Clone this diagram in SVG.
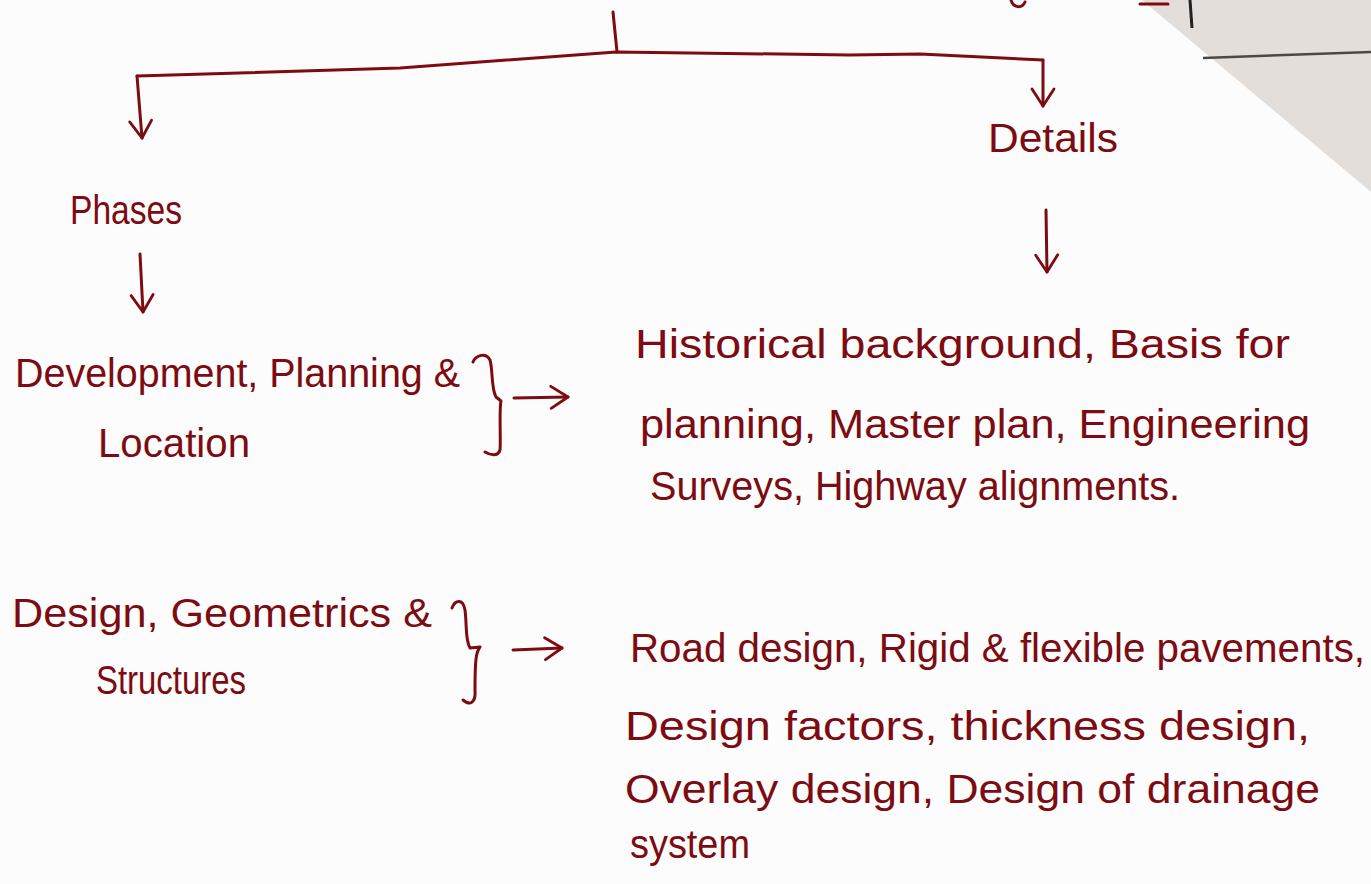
<svg xmlns="http://www.w3.org/2000/svg" width="1371" height="884" viewBox="0 0 1371 884">
<defs>
<style>
.t{font-family:"Liberation Sans","DejaVu Sans",sans-serif;fill:#7c0b12;font-size:40px}
.s{fill:none;stroke:#7c0b12;stroke-width:3;stroke-linecap:round;stroke-linejoin:round}
</style>
<marker id="ah" viewBox="0 0 26 26" refX="24" refY="13" markerWidth="26" markerHeight="26" markerUnits="userSpaceOnUse" orient="auto">
<path d="M7,2 L24,13 L7,24" fill="none" stroke="#7c0b12" stroke-width="2.8" stroke-linecap="round" stroke-linejoin="round"/>
</marker>
</defs>
<rect width="1371" height="884" fill="#fdfcfc"/>
<!-- overlapping page at top right -->
<polygon points="1142,0 1371,0 1371,192" fill="#e4dedb"/>
<path d="M1203,58 L1371,52" stroke="#4a4848" stroke-width="2.5" fill="none"/>
<path d="M1190,0 L1192,28" stroke="#222" stroke-width="3" fill="none"/>
<!-- cut-off fragments at top -->
<path d="M1011,0 C1013,8 1022,9 1025,2" class="s"/>
<path d="M1140,4 L1168,4" class="s" stroke="#333"/>
<g id="connectors">
<path d="M613,12 L617,52" class="s"/>
<path d="M137,76 L400,68 L616,52 L850,55 L920,54 L1043,60" class="s"/>
<path d="M137,76 L142,138" class="s" marker-end="url(#ah)"/>
<path d="M1043,60 L1043,106" class="s" marker-end="url(#ah)"/>
<path d="M140,254 L143,312" class="s" marker-end="url(#ah)"/>
<path d="M1046,210 L1047,272" class="s" marker-end="url(#ah)"/>
<path d="M514,398 L568,397" class="s" marker-end="url(#ah)"/>
<path d="M513,650 L562,648" class="s" marker-end="url(#ah)"/>
</g>
<g id="details">
<text class="t" x="988" y="152" textLength="130" lengthAdjust="spacingAndGlyphs">Details</text>
</g>
<g id="phases">
<text class="t" x="70" y="224" textLength="112" lengthAdjust="spacingAndGlyphs">Phases</text>
</g>
<g id="development">
<text class="t" x="15" y="387" textLength="445" lengthAdjust="spacingAndGlyphs">Development, Planning &amp;</text>
<text class="t" x="98" y="457" textLength="152" lengthAdjust="spacingAndGlyphs">Location</text>
<path d="M473,362 C476,355 486,352 490,360 C493,370 491,388 496,397 L501,401 C499,410 501,440 500,450 C498,457 490,455 485,452" class="s"/>
</g>
<g id="development-details">
<text class="t" x="635" y="358" textLength="655" lengthAdjust="spacingAndGlyphs">Historical background, Basis for</text>
<text class="t" x="640" y="438" textLength="670" lengthAdjust="spacingAndGlyphs">planning, Master plan, Engineering</text>
<text class="t" x="650" y="500" textLength="530" lengthAdjust="spacingAndGlyphs">Surveys, Highway alignments.</text>
</g>
<g id="design">
<text class="t" x="12" y="627" textLength="420" lengthAdjust="spacingAndGlyphs">Design, Geometrics &amp;</text>
<text class="t" x="96" y="694" textLength="150" lengthAdjust="spacingAndGlyphs">Structures</text>
<path d="M452,608 C455,600 463,598 465,610 C467,625 465,640 470,648 L480,647 C476,652 475,660 475,690 C476,703 470,706 463,700" class="s"/>
</g>
<g id="design-details">
<text class="t" x="630" y="662" textLength="735" lengthAdjust="spacingAndGlyphs">Road design, Rigid &amp; flexible pavements,</text>
<text class="t" x="625" y="740" textLength="685" lengthAdjust="spacingAndGlyphs">Design factors, thickness design,</text>
<text class="t" x="625" y="803" textLength="695" lengthAdjust="spacingAndGlyphs">Overlay design, Design of drainage</text>
<text class="t" x="630" y="858" textLength="120" lengthAdjust="spacingAndGlyphs">system</text>
</g>
</svg>
